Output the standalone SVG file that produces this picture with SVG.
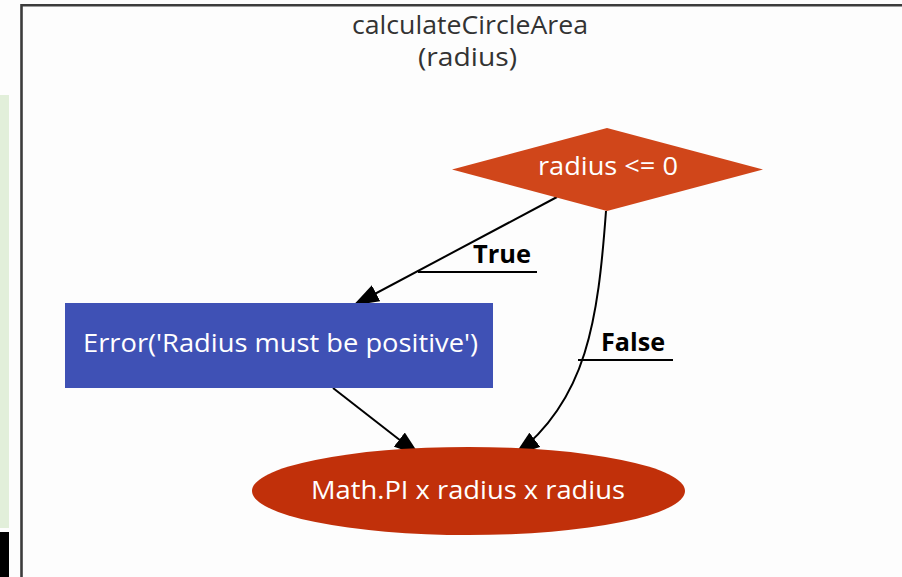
<svg xmlns="http://www.w3.org/2000/svg" width="902" height="577" viewBox="0 0 902 577">
<style>
.t{font-family:"Open Sans","Noto Sans","Liberation Sans",sans-serif;font-size:25px;text-anchor:middle}
.w{fill:#ffffff}
.title{fill:#333333}
.lbl{font-family:"Open Sans","Noto Sans","Liberation Sans",sans-serif;font-size:25px;font-weight:bold;fill:#000000;text-anchor:middle}
.e{fill:none;stroke:#000000;stroke-width:2}
.u{stroke:#000000;stroke-width:2}
</style>
<defs>
<marker id="ah" viewBox="0 0 26 18" refX="25" refY="9" markerWidth="26" markerHeight="18" markerUnits="userSpaceOnUse" orient="auto">
<path d="M0,0 L26,9 L0,18 z" fill="#000000"/>
</marker>
</defs>
<rect x="0" y="0" width="902" height="577" fill="#fdfdfd"/>
<rect x="0" y="95" width="9" height="433" fill="#e2efda"/>
<rect x="0" y="532" width="9" height="45" fill="#000000"/>
<path d="M21.5,577 L21.5,5.3 L902,5.3" fill="none" stroke="#3c3c3c" stroke-width="2.6"/>
<g id="title">
<text class="t title" x="470" y="34" textLength="236" lengthAdjust="spacingAndGlyphs">calculateCircleArea</text>
<text class="t title" x="467.5" y="66" textLength="99" lengthAdjust="spacingAndGlyphs">(radius)</text>
</g>
<g id="edges">
<path class="e" d="M557,197 L354,305" marker-end="url(#ah)"/>
<line class="u" x1="418" y1="272" x2="537" y2="272"/>
<text class="lbl" x="502" y="263" textLength="58" lengthAdjust="spacingAndGlyphs">True</text>
<path class="e" d="M606,211 C598,320 587,400 515,455" marker-end="url(#ah)"/>
<line class="u" x1="578" y1="360" x2="673" y2="360"/>
<text class="lbl" x="633" y="351" textLength="64" lengthAdjust="spacingAndGlyphs">False</text>
<path class="e" d="M333,388 L419,455" marker-end="url(#ah)"/>
</g>
<g id="decision">
<polygon points="607,128 763,169.5 607,211 452,169.5" fill="#d0461a"/>
<text class="t w" x="608" y="175" textLength="140" lengthAdjust="spacingAndGlyphs">radius &lt;= 0</text>
</g>
<g id="error">
<rect x="65" y="303" width="428" height="85" fill="#3f51b5"/>
<text class="t w" x="280.5" y="352" textLength="395" lengthAdjust="spacingAndGlyphs">Error('Radius must be positive')</text>
</g>
<g id="result">
<ellipse cx="468.5" cy="491" rx="216.5" ry="44" fill="#c1300a"/>
<text class="t w" x="468" y="499" textLength="314" lengthAdjust="spacingAndGlyphs">Math.PI x radius x radius</text>
</g>
</svg>
